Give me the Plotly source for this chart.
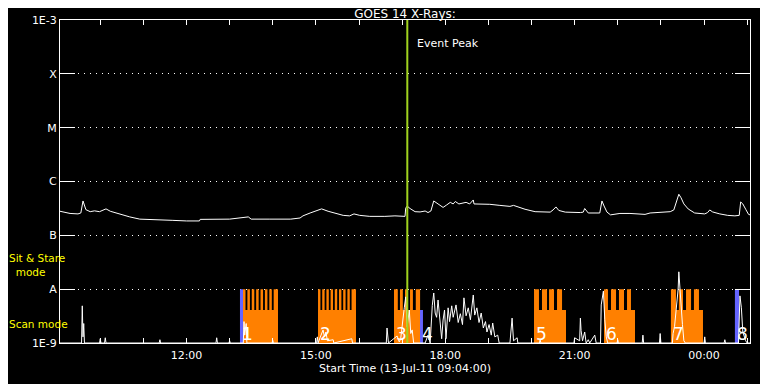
import pandas as pd
import plotly.graph_objects as go

# ---------------- data ----------------
title_text = "GOES 14 X-Rays:"
start_label = "Start Time (13-Jul-11 09:04:00)"
x_start = "09:04"
x_end = "01:04"
event_peak = "17:07:12"

class_vals = [1e-9, 1e-8, 1e-7, 1e-6, 1e-5, 1e-4, 1e-3]
class_text = ["1E-9", "A", "B", "C", "M", "X", "1E-3"]

long_times = ["09:04", "09:18", "09:29", "09:33", "09:36", "09:38", "09:40", "09:46", "09:52", "09:59",
              "10:04", "10:08", "10:14", "10:20", "10:30", "10:41", "10:55", "11:10", "11:23", "11:40",
              "12:00", "12:18", "12:19", "12:40", "13:00", "13:26", "13:30", "13:56", "14:25", "14:38",
              "14:42", "14:52", "15:00", "15:08", "15:17", "15:27", "15:38", "15:47", "15:53", "16:01",
              "16:15", "16:36", "16:50", "17:04", "17:05", "17:07", "17:11", "17:18", "17:25", "17:32",
              "17:36", "17:40", "17:44", "17:50", "17:57", "18:02", "18:07", "18:11", "18:14", "18:19",
              "18:23", "18:29", "18:34", "18:39", "18:40", "19:02", "19:16", "19:30", "19:35", "19:44",
              "19:51", "20:05", "20:19", "20:26", "20:30", "20:34", "20:38", "20:47", "21:08", "21:12",
              "21:14", "21:19", "21:35", "21:38", "21:41", "21:45", "21:50", "21:56", "22:03", "22:17",
              "22:31", "22:38", "22:45", "22:59", "23:13", "23:18", "23:22", "23:25", "23:28", "23:32",
              "23:38", "23:47", "00:01", "00:05", "00:08", "00:12", "00:22", "00:33", "00:43", "00:49",
              "00:51", "00:54", "00:58", "01:02", "01:04"]
long_flux = [2.80e-7, 2.55e-7, 2.50e-7, 2.60e-7, 4.35e-7, 3.50e-7, 3.00e-7, 2.75e-7, 2.85e-7, 2.75e-7,
             2.90e-7, 3.10e-7, 2.80e-7, 2.65e-7, 2.40e-7, 2.20e-7, 2.00e-7, 1.95e-7, 1.90e-7, 1.90e-7,
             1.85e-7, 1.85e-7, 1.98e-7, 1.98e-7, 2.00e-7, 2.20e-7, 2.00e-7, 2.00e-7, 2.00e-7, 2.10e-7,
             2.30e-7, 2.60e-7, 2.80e-7, 3.10e-7, 2.80e-7, 2.55e-7, 2.35e-7, 2.30e-7, 2.50e-7, 2.35e-7,
             2.25e-7, 2.25e-7, 2.30e-7, 2.25e-7, 3.20e-7, 3.50e-7, 3.15e-7, 2.75e-7, 2.72e-7, 2.83e-7,
             2.65e-7, 2.83e-7, 4.35e-7, 3.83e-7, 3.30e-7, 3.67e-7, 4.10e-7, 3.83e-7, 4.25e-7, 3.83e-7,
             3.90e-7, 4.10e-7, 3.83e-7, 4.54e-7, 3.83e-7, 3.77e-7, 3.60e-7, 3.45e-7, 3.60e-7, 3.22e-7,
             3.05e-7, 2.75e-7, 2.75e-7, 2.70e-7, 2.96e-7, 3.37e-7, 2.90e-7, 2.70e-7, 2.65e-7, 2.70e-7,
             3.15e-7, 2.60e-7, 2.60e-7, 4.35e-7, 3.50e-7, 2.70e-7, 2.40e-7, 2.50e-7, 2.55e-7, 2.55e-7,
             2.50e-7, 2.45e-7, 2.60e-7, 2.65e-7, 2.75e-7, 2.96e-7, 4.17e-7, 5.80e-7, 5.00e-7, 3.83e-7,
             3.09e-7, 2.60e-7, 2.50e-7, 2.65e-7, 2.96e-7, 2.72e-7, 2.50e-7, 2.35e-7, 2.30e-7, 2.35e-7,
             4.17e-7, 3.83e-7, 3.05e-7, 2.45e-7, 2.40e-7]

short_times = ["09:04", "09:34", "09:35", "09:36", "09:37", "09:38", "09:59", "10:00", "10:01", "10:06",
               "10:07", "10:08", "11:22", "11:23", "11:24", "12:41", "12:42", "12:43", "12:59", "13:00",
               "13:01", "13:19", "13:20", "13:21", "13:23", "13:24", "13:59", "14:00", "14:01", "15:01",
               "15:02", "15:03", "15:10", "15:12", "15:14", "15:16", "15:24", "15:25", "15:50", "15:51",
               "16:38", "16:39", "16:41", "16:53", "16:56", "16:58", "17:03", "17:05", "17:07", "17:10",
               "17:12", "17:14", "17:16", "17:32", "17:36", "17:39", "17:42", "17:44", "17:46", "17:48",
               "17:50", "17:53", "17:55", "17:57", "17:59", "18:01", "18:04", "18:06", "18:09", "18:11",
               "18:15", "18:18", "18:21", "18:24", "18:26", "18:29", "18:32", "18:35", "18:39", "18:41",
               "18:44", "18:47", "18:50", "18:53", "18:56", "18:58", "19:01", "19:04", "19:06", "19:09",
               "19:13", "19:15", "19:30", "19:33", "19:35", "19:40", "19:41", "20:11", "20:12", "20:13",
               "20:59", "21:00", "21:07", "21:08", "21:09", "21:11", "21:14", "21:16", "21:19", "21:21",
               "21:28", "21:30", "21:36", "21:37", "21:40", "21:42", "21:44", "21:46", "21:59", "22:00",
               "22:01", "22:34", "22:35", "22:36", "22:58", "22:59", "23:00", "23:16", "23:17", "23:19",
               "23:22", "23:24", "23:25", "23:27", "23:28", "23:30", "23:32", "23:34", "00:00", "00:01",
               "00:02", "00:28", "00:29", "00:30", "00:48", "00:50", "00:52", "00:54", "00:58", "01:00",
               "01:04"]
short_flux = [1.0e-9, 1.0e-9, 4.9e-9, 1.3e-9, 2.3e-9, 1.0e-9, 1.0e-9, 1.2e-9, 1.0e-9, 1.0e-9,
              1.25e-9, 1.0e-9, 1.0e-9, 1.15e-9, 1.0e-9, 1.0e-9, 1.25e-9, 1.0e-9, 1.0e-9, 1.1e-9,
              1.0e-9, 1.0e-9, 2.5e-9, 1.4e-9, 2.3e-9, 1.0e-9, 1.0e-9, 1.12e-9, 1.0e-9, 1.0e-9,
              1.3e-9, 1.0e-9, 1.75e-9, 1.3e-9, 1.6e-9, 1.1e-9, 1.15e-9, 1.0e-9, 1.2e-9, 1.0e-9,
              1.0e-9, 1.9e-9, 1.0e-9, 1.35e-9, 1.05e-9, 1.2e-9, 4.5e-9, 7.2e-9, 2.0e-9, 4.1e-9,
              1.5e-9, 1.75e-9, 1.0e-9, 1.0e-9, 1.4e-9, 1.0e-9, 5.0e-9, 8.5e-9, 3.6e-9, 3.0e-9,
              6.3e-9, 2.6e-9, 1.2e-9, 2.67e-9, 4.1e-9, 1.2e-9, 4.5e-9, 2.5e-9, 4.9e-9, 3.0e-9,
              5.1e-9, 2.4e-9, 3.5e-9, 2.2e-9, 6.9e-9, 3.2e-9, 4.5e-9, 2.7e-9, 7.8e-9, 3.3e-9,
              4.5e-9, 2.4e-9, 3.6e-9, 1.9e-9, 2.5e-9, 1.6e-9, 2.2e-9, 1.4e-9, 2.35e-9, 1.3e-9,
              1.4e-9, 1.0e-9, 1.0e-9, 2.9e-9, 1.1e-9, 1.25e-9, 1.0e-9, 1.0e-9, 1.15e-9, 1.0e-9,
              1.0e-9, 1.25e-9, 1.1e-9, 2.9e-9, 1.7e-9, 1.1e-9, 1.6e-9, 1.0e-9, 1.15e-9, 1.0e-9,
              1.4e-9, 1.0e-9, 1.0e-9, 5.1e-9, 9.2e-9, 2.7e-9, 1.3e-9, 1.0e-9, 1.0e-9, 1.15e-9,
              1.0e-9, 1.0e-9, 1.4e-9, 1.0e-9, 1.0e-9, 1.5e-9, 1.0e-9, 1.0e-9, 1.5e-9, 2.0e-9,
              5.1e-9, 1.0e-8, 2.1e-8, 7.8e-9, 4.5e-9, 2.2e-9, 1.1e-9, 1.0e-9, 1.0e-9, 1.3e-9,
              1.0e-9, 1.0e-9, 1.15e-9, 1.0e-9, 1.0e-9, 7.5e-9, 4.5e-9, 1.6e-9, 1.1e-9, 1.0e-9,
              1.0e-9]

# scan-mode observation blocks (orange)
block_start = ["13:18:36", "15:03:00", "16:48:42", "20:03:30", "21:40:54", "23:14:00"]
block_end = ["14:07:18", "15:55:48", "17:26:18", "20:48:00", "22:24:00", "23:58:36"]
block_level = 4.1e-9

tooth_start = ["13:18:36", "13:24:42", "13:30:48", "13:36:54", "13:43:00", "13:49:06", "13:55:12", "14:01:18",
               "15:03:00", "15:08:50", "15:14:40", "15:20:30", "15:26:20", "15:32:10", "15:38:00", "15:43:50", "15:49:40",
               "16:48:42", "16:57:00", "17:04:00", "17:11:00", "17:19:00",
               "20:03:30", "20:14:36", "20:24:24", "20:35:30",
               "21:40:54", "21:50:36", "22:01:42", "22:12:54",
               "23:14:00", "23:25:00", "23:35:00", "23:46:00"]
tooth_end = ["13:22:06", "13:28:12", "13:34:18", "13:40:24", "13:46:30", "13:52:36", "13:58:42", "14:07:18",
             "15:06:20", "15:12:10", "15:18:00", "15:23:50", "15:29:40", "15:35:30", "15:41:20", "15:47:10", "15:55:48",
             "16:54:00", "17:01:00", "17:07:00", "17:15:00", "17:25:00",
             "20:10:24", "20:21:36", "20:31:18", "20:42:30",
             "21:46:24", "21:57:36", "22:08:42", "22:18:24",
             "23:21:00", "23:30:48", "23:42:00", "23:53:00"]
tooth_level = 1.0e-8

# sit & stare observations (blue)
blue_start = ["13:14:24", "17:24:54", "00:43:00"]
blue_end = ["13:18:36", "17:29:00", "00:48:42"]
blue_top = [1.0e-8, 4.1e-9, 1.0e-8]

obs_labels = ["1", "2", "3", "4", "5", "6", "7", "8"]
obs_label_times = ["13:14:24", "15:03:00", "16:48:42", "17:24:54", "20:03:30", "21:40:54", "23:14:00", "00:43:00"]


# ---------------- helpers ----------------
def ts(hm):
    h = int(hm.split(":")[0])
    day = 13 if h >= 9 else 14
    return pd.Timestamp(f"2011-07-{day} {hm}")


def bar_geom(starts, ends):
    s = [ts(v) for v in starts]
    e = [ts(v) for v in ends]
    centers = [a + (b - a) / 2 for a, b in zip(s, e)]
    widths = [(b - a).total_seconds() * 1000 for a, b in zip(s, e)]
    return centers, widths


ORANGE = "#ff8000"
BLUE = "#6464ff"
GREEN = "#a0d21e"
YELLOW = "#ffff00"
FONT = "DejaVu Sans"

# the page body adds an 8 px offset; plot area in page pixels
OFF = 8
PL, PR, PT, PB = 60, 750, 20, 343
FIG_W, FIG_H = 768 - OFF, 384 - OFF


def px2paper(xp, yp):
    return (xp - PL) / (PR - PL), (PB - yp) / (PB - PT)


fig = go.Figure()

bc, bw = bar_geom(block_start, block_end)
fig.add_trace(go.Bar(x=bc, y=[block_level] * len(bc), width=bw, marker=dict(color=ORANGE, line=dict(width=0)),
                     hoverinfo="skip", showlegend=False))
tc, tw = bar_geom(tooth_start, tooth_end)
fig.add_trace(go.Bar(x=tc, y=[tooth_level] * len(tc), width=tw, marker=dict(color=ORANGE, line=dict(width=0)),
                     hoverinfo="skip", showlegend=False))
uc, uw = bar_geom(blue_start, blue_end)
fig.add_trace(go.Bar(x=uc, y=blue_top, width=uw, marker=dict(color=BLUE, line=dict(width=0)),
                     hoverinfo="skip", showlegend=False))

fig.add_trace(go.Scatter(x=[ts(t) for t in long_times], y=long_flux, mode="lines",
                         line=dict(color="white", width=1), hoverinfo="skip", showlegend=False))
fig.add_trace(go.Scatter(x=[ts(t) for t in short_times], y=short_flux, mode="lines",
                         line=dict(color="white", width=1), hoverinfo="skip", showlegend=False))

fig.add_trace(go.Scatter(x=[ts(event_peak), ts(event_peak)], y=[class_vals[0], class_vals[-1]], mode="lines",
                         line=dict(color=GREEN, width=2), hoverinfo="skip", showlegend=False))

for lab, t in zip(obs_labels, obs_label_times):
    fig.add_annotation(x=ts(t), y=px2paper(0, 334)[1], xref="x", yref="paper", text=lab, showarrow=False,
                       xanchor="left", yanchor="middle", font=dict(color="white", size=17, family=FONT))

fig.add_annotation(x=ts(event_peak), y=px2paper(0, 43)[1], xref="x", yref="paper", text="Event Peak",
                   showarrow=False, xanchor="left", yanchor="middle", xshift=8,
                   font=dict(color="white", size=11, family=FONT))

for txt, xpx, ypx in [("Sit & Stare<br>&nbsp;&nbsp;mode", 8, 265), ("Scan mode", 8, 324)]:
    xp, yp = px2paper(xpx, ypx)
    fig.add_annotation(x=xp, y=yp, xref="paper", yref="paper", text=txt, align="left",
                       showarrow=False, xanchor="left", yanchor="middle", borderpad=0,
                       font=dict(color=YELLOW, size=10.5, family=FONT))

fig.update_layout(
    width=FIG_W, height=FIG_H,
    margin=dict(l=PL - OFF, r=FIG_W - (PR - OFF), t=PT - OFF, b=FIG_H - (PB - OFF), pad=0),
    paper_bgcolor="black", plot_bgcolor="black",
    barmode="overlay",
    font=dict(family=FONT, color="white", size=11),
    title=dict(text=title_text, x=0.5, xref="paper", xanchor="center", y=1 - 5.5 / FIG_H, yref="container",
               yanchor="middle", pad=dict(t=0, b=0), font=dict(size=12, color="white", family=FONT)),
    xaxis=dict(type="date", range=[ts(x_start), ts(x_end)], showgrid=False, zeroline=False, automargin=False,
               showline=True, linecolor="white", linewidth=1, mirror="allticks",
               ticks="inside", ticklen=5, tickcolor="white", tickwidth=1,
               dtick=3 * 3600 * 1000, tick0="2011-07-13 00:00", tickformat="%H:%M",
               tickfont=dict(size=11, color="white"), ticklabelstandoff=2,
               minor=dict(dtick=3600 * 1000, ticks="inside", ticklen=5, tickcolor="white", showgrid=False),
               title=dict(text=start_label, font=dict(size=11, color="white"), standoff=0)),
    yaxis=dict(type="log", range=[-9, -3], tickvals=class_vals, ticktext=class_text, automargin=False,
               showline=True, linecolor="white", linewidth=1, mirror="allticks",
               ticks="inside", ticklen=15, tickcolor="white", tickwidth=1,
               showgrid=True, gridcolor="white", gridwidth=1, griddash="1px,5px", zeroline=False,
               tickfont=dict(size=11, color="white")),
)

fig.write_html("out.html")
